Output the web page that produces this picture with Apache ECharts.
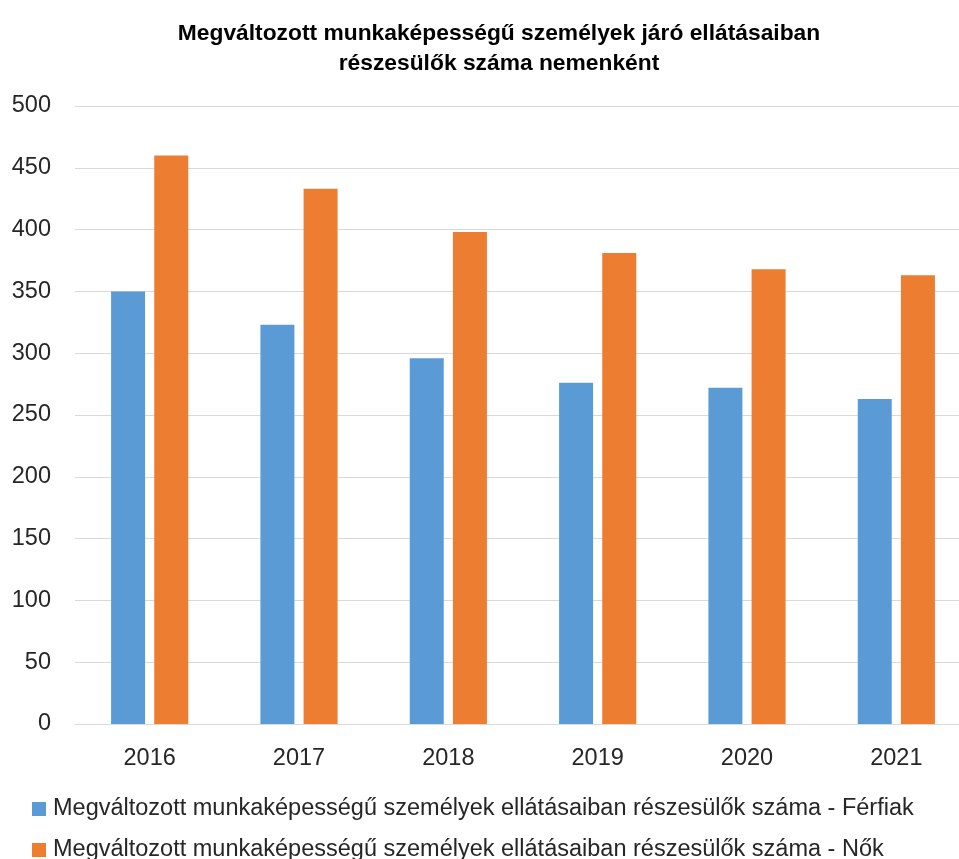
<!DOCTYPE html>
<html>
<head>
<meta charset="utf-8">
<script src="https://cdn.jsdelivr.net/npm/echarts@6/dist/echarts.min.js"></script>
<style>html,body{margin:0;padding:0;background:#fff;overflow:hidden;width:959px;height:859px}#c{width:980px;height:859px}</style>
</head>
<body>
<div id="c"></div>
<script>
const categories = ['2016', '2017', '2018', '2019', '2020', '2021'];
const ferfiak = [350, 323, 296, 276, 272, 263];
const nok = [460, 433, 398, 381, 368, 363];
const seriesNames = [
  'Megváltozott munkaképességű személyek ellátásaiban részesülők száma - Férfiak',
  'Megváltozott munkaképességű személyek ellátásaiban részesülők száma - Nők'
];
const titleText = 'Megváltozott munkaképességű személyek járó ellátásaiban\nrészesülők száma nemenként';
const yTicks = [0, 50, 100, 150, 200, 250, 300, 350, 400, 450, 500];

const chart = echarts.init(document.getElementById('c'));
const font = 'Liberation Sans, Arial, sans-serif';
const legendText = {fontFamily: font, fontSize: 23.5, color: '#262626', padding: [0, 0, 0, 2]};
chart.setOption({
  animation: false,
  backgroundColor: '#fff',
  title: {
    text: titleText,
    left: 494, top: 14, textAlign: 'center',
    textStyle: {fontFamily: font, fontWeight: 'bold', fontSize: 22.8, lineHeight: 30, color: '#000'}
  },
  legend: [
    {left: 32, top: 797, padding: 0, icon: 'rect', itemWidth: 14, itemHeight: 14, itemGap: 0,
     textStyle: legendText, data: [seriesNames[0]]},
    {left: 32, top: 838, padding: 0, icon: 'rect', itemWidth: 14, itemHeight: 14, itemGap: 0,
     textStyle: legendText, data: [seriesNames[1]]}
  ],
  grid: {left: 75, width: 896, top: 106, height: 618, containLabel: false},
  xAxis: {
    type: 'category', data: categories,
    axisLine: {lineStyle: {color: '#d9d9d9', width: 1}},
    axisTick: {show: false},
    axisLabel: {fontFamily: font, fontSize: 23.5, color: '#262626', margin: 23}
  },
  yAxis: {
    type: 'value', min: yTicks[0], max: yTicks[yTicks.length - 1], interval: 50,
    axisLine: {show: false}, axisTick: {show: false},
    splitLine: {lineStyle: {color: '#d9d9d9', width: 1}},
    axisLabel: {fontFamily: font, fontSize: 23.5, color: '#262626', margin: 24}
  },
  series: [
    {name: seriesNames[0], type: 'bar', data: ferfiak, barWidth: 34, barGap: '27%',
     itemStyle: {color: '#5b9bd5'}},
    {name: seriesNames[1], type: 'bar', data: nok, barWidth: 34, barGap: '27%',
     itemStyle: {color: '#ed7d31'}}
  ]
});
</script>
</body>
</html>
